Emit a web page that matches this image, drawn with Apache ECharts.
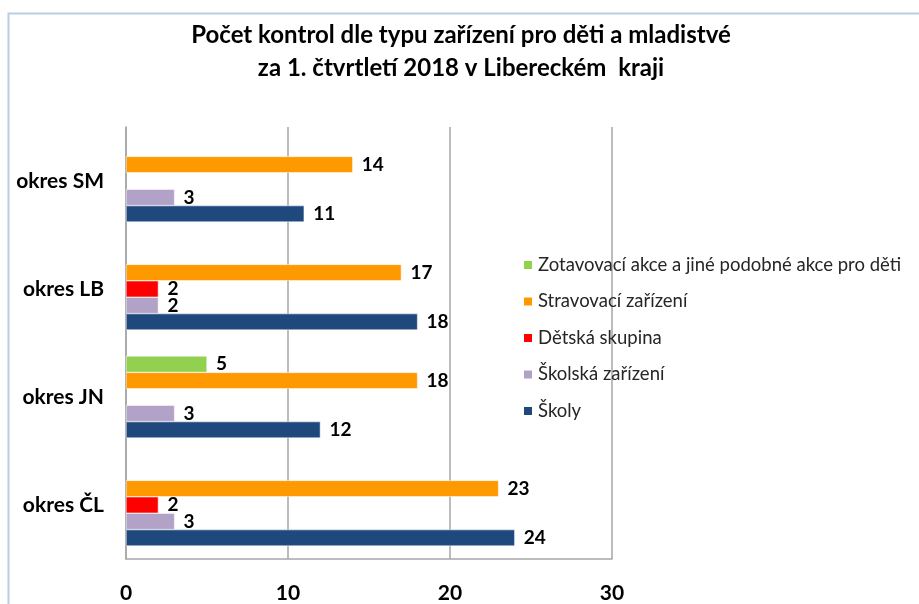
<!doctype html>
<html>
    <head>
        <meta charset="utf-8">
        <style>
            html, body { margin: 0; padding: 0; background: #fff; }
            #main { width: 919px; height: 604px; }
        </style>
    </head>
    <body>
        <div id="main"></div>
        <script src="https://cdn.jsdelivr.net/npm/echarts@6/dist/echarts.min.js"></script>
        <script>
            var chart = echarts.init(document.getElementById('main'));

            var districts = ['okres ČL', 'okres JN', 'okres LB', 'okres SM'];
            var xTicks = [0, 10, 20, 30];

            // one array per series, same order as districts (bottom -> top)
            var zotavovaci = [null, 5, null, null];
            var stravovaci = [23, 18, 17, 14];
            var detskaSkupina = [2, null, 2, null];
            var skolskaZarizeni = [3, 3, 2, 3];
            var skoly = [24, 12, 18, 11];

            // first series is drawn on top of each group
            var names = [
                'Zotavovací akce a jiné podobné akce pro děti',
                'Stravovací zařízení',
                'Dětská skupina',
                'Školská zařízení',
                'Školy'
            ];
            var colors = ['#92d050', '#ff9900', '#ff0000', '#b3a2c7', '#1f497d'];
            var values = [zotavovaci, stravovaci, detskaSkupina, skolskaZarizeni, skoly];

            var font = 'Lato, "Open Sans", sans-serif';

            var series = names.map(function (name, i) {
                return {
                    name: name,
                    type: 'bar',
                    data: values[i],
                    barGap: 0,
                    barCategoryGap: '24%',
                    itemStyle: { color: colors[i], borderColor: '#fff', borderWidth: 0.5 },
                    label: {
                        show: true,
                        position: 'right',
                        distance: 9,
                        color: '#000',
                        fontFamily: font,
                        fontWeight: 'bold',
                        fontSize: 19
                    }
                };
            });

            chart.setOption({
                animation: false,
                title: {
                    text: 'Počet kontrol dle typu zařízení pro děti a mladistvé\nza 1. čtvrtletí 2018 v Libereckém  kraji',
                    left: 456,
                    top: 14,
                    textAlign: 'center',
                    textStyle: {
                        fontFamily: font,
                        fontWeight: 'bold',
                        fontSize: 24,
                        lineHeight: 33,
                        color: '#000'
                    }
                },
                legend: {
                    orient: 'vertical',
                    left: 517,
                    top: 250,
                    itemWidth: 10,
                    itemHeight: 10,
                    itemGap: 16.5,
                    icon: 'rect',
                    data: names,
                    textStyle: {
                        fontFamily: font,
                        fontSize: 18.5,
                        color: '#262626',
                        lineHeight: 20
                    }
                },
                graphic: [{
                    type: 'rect',
                    shape: { x: 8.5, y: 13.5, width: 1000, height: 1000 },
                    style: { fill: 'none', stroke: '#b9cde5', lineWidth: 2 },
                    silent: true
                }],
                grid: {
                    left: 126,
                    right: 307,
                    top: 127,
                    bottom: 40,
                    containLabel: false
                },
                xAxis: {
                    type: 'value',
                    min: xTicks[0],
                    max: xTicks[xTicks.length - 1],
                    interval: 10,
                    axisLine: { show: true, lineStyle: { color: '#a6a6a6', width: 1.5 } },
                    axisTick: { show: false },
                    splitLine: { lineStyle: { color: '#a6a6a6', width: 1.5 } },
                    axisLabel: {
                        margin: 24,
                        color: '#000',
                        fontFamily: font,
                        fontWeight: 'bold',
                        fontSize: 21
                    }
                },
                yAxis: {
                    type: 'category',
                    data: districts,
                    axisLine: { show: true, lineStyle: { color: '#a6a6a6', width: 1.5 } },
                    axisTick: { show: false },
                    axisLabel: {
                        margin: 22,
                        color: '#000',
                        fontFamily: font,
                        fontWeight: 'bold',
                        fontSize: 21
                    }
                },
                series: series
            });

            window.addEventListener('resize', function () {
                chart.resize();
            });
        </script>
    </body>
</html>
